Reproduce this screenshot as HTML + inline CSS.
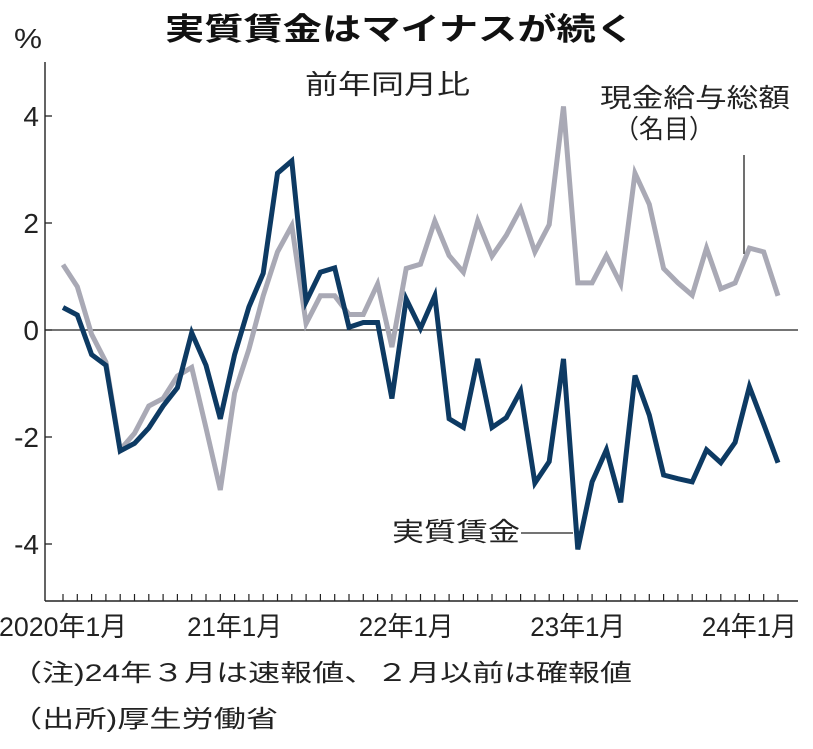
<!DOCTYPE html>
<html><head><meta charset="utf-8">
<style>
html,body{margin:0;padding:0;background:#fff;}
svg{display:block;font-family:"Liberation Sans","Noto Sans CJK JP",sans-serif;}
</style></head>
<body>
<svg id="chart" width="813" height="749" viewBox="0 0 813 749">
<text x="400" y="40" text-anchor="middle" font-size="31" font-weight="bold" fill="#111" textLength="470" lengthAdjust="spacingAndGlyphs">実質賃金はマイナスが続く</text>
<text x="14" y="48" font-size="28" fill="#222" textLength="28" lengthAdjust="spacingAndGlyphs">%</text>
<text x="305" y="94" font-size="27" fill="#222" textLength="165" lengthAdjust="spacingAndGlyphs">前年同月比</text>
<text x="600" y="107" font-size="26" fill="#222" textLength="190" lengthAdjust="spacingAndGlyphs">現金給与総額</text>
<text x="614" y="138" font-size="26" fill="#222" textLength="100" lengthAdjust="spacingAndGlyphs">（名目）</text>
<line x1="744" y1="155" x2="744" y2="254" stroke="#222" stroke-width="1.3"/>
<text x="392" y="541" font-size="26" fill="#222" textLength="128" lengthAdjust="spacingAndGlyphs">実質賃金</text>
<line x1="521" y1="533" x2="573" y2="533" stroke="#222" stroke-width="1.3"/>
<g id="axes"></g>
<g id="series"></g>
<text x="10" y="681" font-size="24" fill="#222" textLength="622" lengthAdjust="spacingAndGlyphs">（注)24年３月は速報値、２月以前は確報値</text>
<text x="10" y="727" font-size="24" fill="#222" textLength="268" lengthAdjust="spacingAndGlyphs">（出所)厚生労働省</text>
</svg>
<script>
const yTicks = [4, 2, 0, -2, -4];
const yTickLabels = ["4", "2", "0", "-2", "-4"];
const xLabelMonths = [0, 12, 24, 36, 48];
const xLabels = ["2020年1月", "21年1月", "22年1月", "23年1月", "24年1月"];
const realWage = [0.42,0.28,-0.46,-0.66,-2.26,-2.12,-1.83,-1.42,-1.08,-0.05,-0.66,-1.66,-0.46,0.43,1.06,2.93,3.16,0.53,1.08,1.16,0.05,0.14,0.14,-1.28,0.58,0.03,0.64,-1.66,-1.82,-0.54,-1.82,-1.64,-1.14,-2.86,-2.46,-0.54,-4.1,-2.84,-2.24,-3.22,-0.85,-1.59,-2.71,-2.78,-2.84,-2.24,-2.48,-2.1,-1.06,-1.76,-2.48];
const nominalWage = [1.22,0.81,-0.08,-0.6,-2.24,-1.93,-1.42,-1.28,-0.86,-0.7,-1.83,-2.99,-1.18,-0.36,0.64,1.46,1.95,0.12,0.64,0.64,0.29,0.29,0.86,-0.32,1.15,1.23,2.04,1.39,1.08,2.04,1.38,1.77,2.27,1.46,1.97,4.18,0.88,0.88,1.39,0.86,2.93,2.35,1.15,0.88,0.65,1.53,0.77,0.88,1.53,1.46,0.64];

const NS = "http://www.w3.org/2000/svg";
const xScale = m => 63 + m * 14.3;
const yScale = v => 330 - v * 53.5;
const axes = document.getElementById('axes');
const series = document.getElementById('series');
function mk(tag, attrs, parent) {
  const e = document.createElementNS(NS, tag);
  for (const k in attrs) e.setAttribute(k, attrs[k]);
  parent.appendChild(e);
  return e;
}
const yAxis = mk('line', {x1:45, y1:62, x2:45, y2:601, stroke:'#222', 'stroke-width':1.4}, axes);


const xAxis = mk('line', {x1:45, y1:601, x2:798, y2:601, stroke:'#222', 'stroke-width':1.4}, axes);


const zero = mk('line', {x1:45, y1:yScale(0), x2:798, y2:yScale(0), stroke:'#222', 'stroke-width':1.2}, axes);


yTicks.forEach((v, i) => {
  const t = mk('line', {x1:45, y1:yScale(v), x2:52, y2:yScale(v), stroke:'#222', 'stroke-width':1.3}, axes);
  
  
  const l = mk('text', {x:39, y:yScale(v) + 10, 'text-anchor':'end', 'font-size':28, fill:'#222'}, axes);
  l.textContent = yTickLabels[i];
  
  
});
for (let m = 0; m < realWage.length; m++) {
  const t = mk('line', {x1:xScale(m), y1:601, x2:xScale(m), y2:594, stroke:'#222', 'stroke-width':1.2}, axes);
  
  
}
xLabelMonths.forEach((m, i) => {
  const l = mk('text', {x:xScale(m), y:636, 'text-anchor':'middle', 'font-size':27, fill:'#222', textLength: i === 0 ? 128 : 95, lengthAdjust:'spacingAndGlyphs'}, axes);
  l.textContent = xLabels[i];
  
  
});
function pts(arr) { return arr.map((v, i) => xScale(i).toFixed(1) + ',' + yScale(v).toFixed(1)).join(' '); }
const nom = mk('polyline', {points:pts(nominalWage), fill:'none', stroke:'#a9a9b5', 'stroke-width':5, 'stroke-linejoin':'miter'}, series);


const real = mk('polyline', {points:pts(realWage), fill:'none', stroke:'#0d3a63', 'stroke-width':5, 'stroke-linejoin':'miter'}, series);


</script>
</body></html>
